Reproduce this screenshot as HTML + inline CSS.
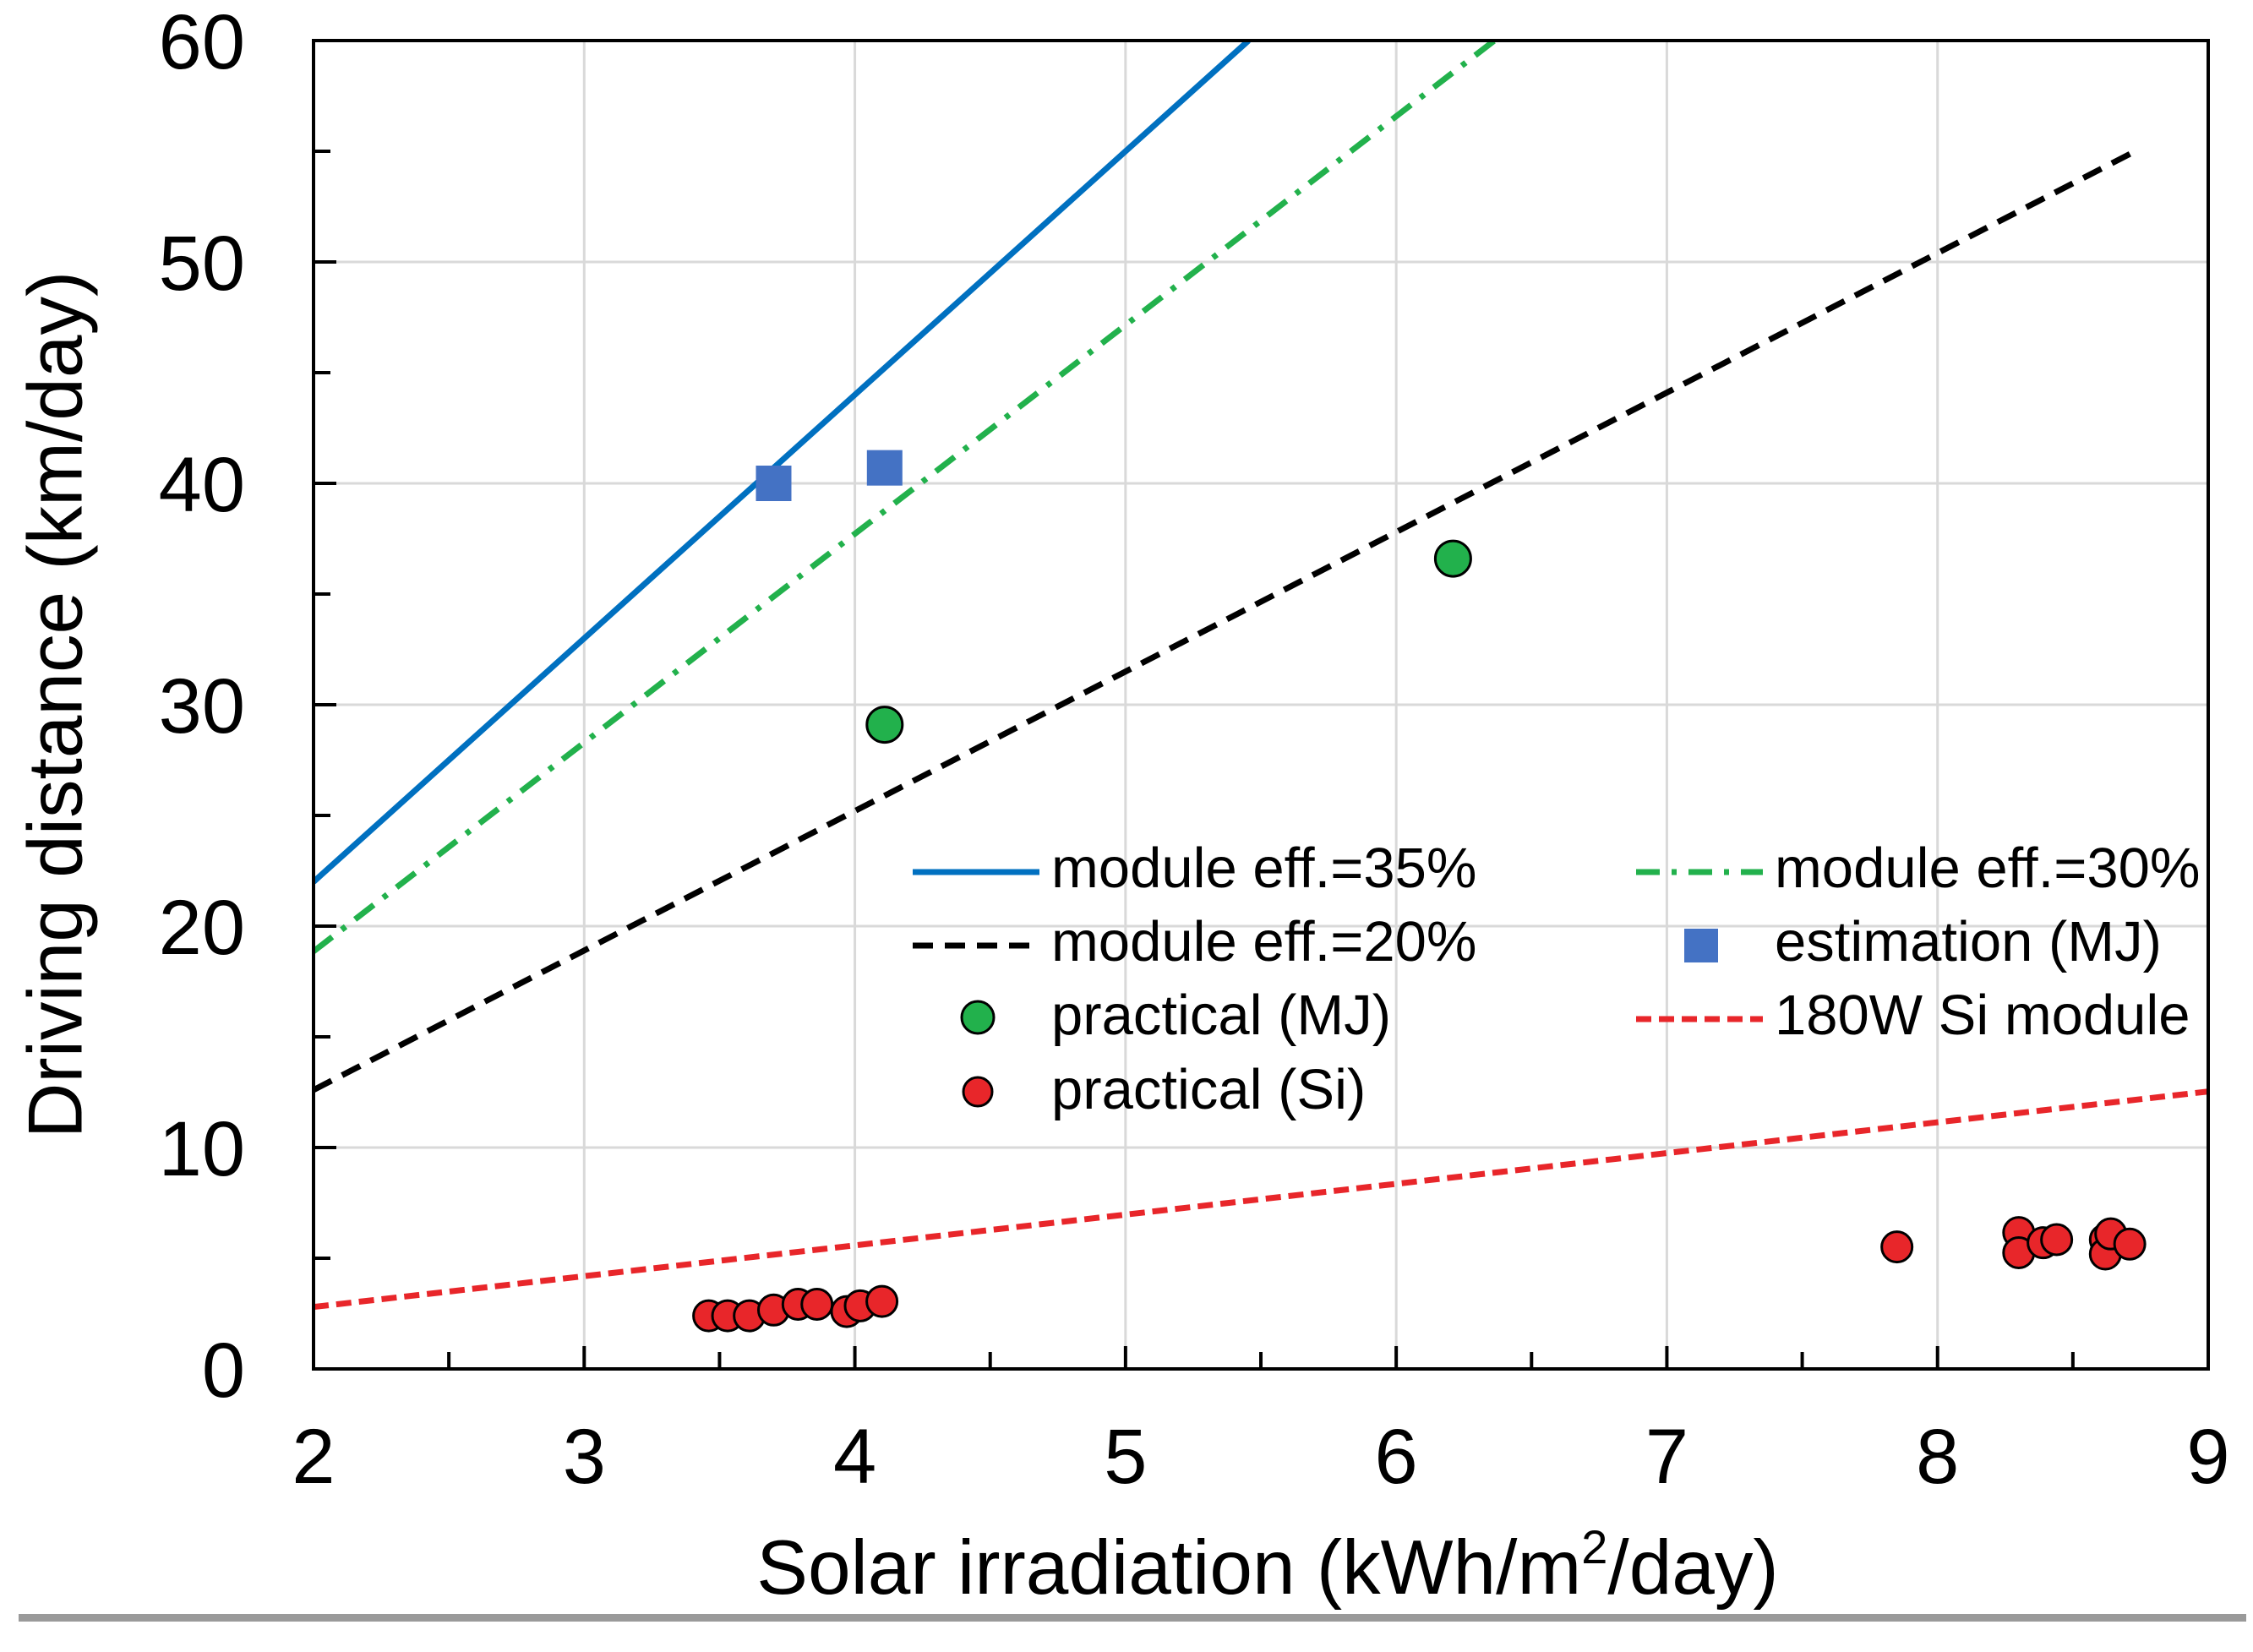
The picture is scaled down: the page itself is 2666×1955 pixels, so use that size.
<!DOCTYPE html>
<html><head><meta charset="utf-8"><style>
html,body{margin:0;padding:0;background:#fff;}
svg{display:block;font-family:"Liberation Sans",Arial,sans-serif;}
</style></head><body>
<svg id="chart" width="2666" height="1955" viewBox="0 0 2666 1955" xmlns="http://www.w3.org/2000/svg">
<g id="grid"></g>
<g id="series"></g>
<g id="axes"></g>
<g id="legend"></g>
<text x="66" y="834" font-size="91" text-anchor="middle" dominant-baseline="central" transform="rotate(-90 66 834)">Driving distance (km/day)</text>
<text x="1500" y="1886" font-size="91" text-anchor="middle">Solar irradiation (kWh/m<tspan font-size="56" dy="-36">2</tspan><tspan dy="36">/day)</tspan></text>
<rect x="22" y="1910" width="2636" height="9" fill="#9a9a9a"/>
</svg>
<script>
const xTicks = [2,3,4,5,6,7,8,9];
const yTicks = [0,10,20,30,40,50,60];
const lineSlopes = {eff35: 11.0, eff30: 9.43, eff20: 6.3};
const siSlope = 1.39;
const siIntercept = 0.02;
const line20End = 8.72;
const squareX = [3.70, 4.11];
const squareY = [40.0, 40.7];
const mjX = [4.11, 6.21];
const mjY = [29.1, 36.6];
const siX = [3.46,3.53,3.61,3.70,3.79,3.86,3.97,4.02,4.10,7.85,8.30,8.30,8.39,8.44,8.62,8.62,8.64,8.71];
const siY = [2.40,2.40,2.40,2.66,2.92,2.92,2.59,2.85,3.05,5.51,6.16,5.25,5.70,5.84,5.84,5.19,6.10,5.64];

const L=371,R=2613,T=48,B=1620;
const X=v=>L+(v-2)/7*(R-L);
const Y=v=>B-v/60*(B-T);
const NS="http://www.w3.org/2000/svg";
function mk(tag,attrs,parent){const e=document.createElementNS(NS,tag);for(const k in attrs)e.setAttribute(k,attrs[k]);parent.appendChild(e);return e;}
const grid=document.getElementById('grid'),axes=document.getElementById('axes'),ser=document.getElementById('series'),leg=document.getElementById('legend');

xTicks.forEach(v=>{
  const g=mk('line',{x1:X(v),x2:X(v),y1:T,y2:B,stroke:'#d9d9d9','stroke-width':3},grid);
  
  
  const t=mk('line',{x1:X(v),x2:X(v),y1:B,y2:B-27,stroke:'#000','stroke-width':4},axes);
  
  
  if(v<9){const m=mk('line',{x1:X(v+0.5),x2:X(v+0.5),y1:B,y2:B-20,stroke:'#000','stroke-width':4},axes);
  
  }
  const lb=mk('text',{x:X(v),y:1755,'font-size':92,'text-anchor':'middle'},axes);lb.textContent=v;
  
  
});
yTicks.forEach(v=>{
  const g=mk('line',{x1:L,x2:R,y1:Y(v),y2:Y(v),stroke:'#d9d9d9','stroke-width':3},grid);
  
  
  const t=mk('line',{x1:L,x2:L+27,y1:Y(v),y2:Y(v),stroke:'#000','stroke-width':4},axes);
  
  
  if(v<60){const m=mk('line',{x1:L,x2:L+20,y1:Y(v+5),y2:Y(v+5),stroke:'#000','stroke-width':4},axes);
  
  }
  const lb=mk('text',{x:290,y:Y(v)+33,'font-size':92,'text-anchor':'end'},axes);lb.textContent=v;
  
  
});
const frame=mk('rect',{x:L,y:T,width:R-L,height:B-T,fill:'none',stroke:'#000','stroke-width':4},axes);



const clip=mk('clipPath',{id:'pc'},ser);mk('rect',{x:L,y:T,width:R-L,height:B-T},clip);
function line(x1,y1,x2,y2,color,dash,name){
  const e=mk('line',{x1:X(x1),y1:Y(y1),x2:X(x2),y2:Y(y2),stroke:color,'stroke-width':7,'stroke-dasharray':dash,'clip-path':'url(#pc)'},ser);
  
  
}
line(2,2*lineSlopes.eff35,60/lineSlopes.eff35,60,'#0070c0','none','line-eff-35');
line(2,2*lineSlopes.eff30,60/lineSlopes.eff30,60,'#22b14c','28 14 6 14','line-eff-30');
line(2,2*lineSlopes.eff20,line20End,line20End*lineSlopes.eff20,'#000','24 14','line-eff-20');
line(2,2*siSlope+siIntercept,9,9*siSlope+siIntercept,'#e8262a','18 9','line-180w-si');

squareX.forEach((x,i)=>{
  const s=mk('rect',{x:X(x)-21,y:Y(squareY[i])-21,width:42,height:42,fill:'#4472c4'},ser);
  
  
});
mjX.forEach((x,i)=>{
  const c=mk('circle',{cx:X(x),cy:Y(mjY[i]),r:21,fill:'#22b14c',stroke:'#000','stroke-width':3},ser);
  
  
});
siX.forEach((x,i)=>{
  const c=mk('circle',{cx:X(x),cy:Y(siY[i]),r:18,fill:'#e8262a',stroke:'#000','stroke-width':3},ser);
  
  
});

function legText(x,y,s,name){const t=mk('text',{x:x,y:y+24,'font-size':67},leg);t.textContent=s;
  
  }
function legLine(x,y,color,dash,name){const e=mk('line',{x1:x,x2:x+150,y1:y,y2:y,stroke:color,'stroke-width':7,'stroke-dasharray':dash},leg);
  
  }
legLine(1080,1032,'#0070c0','none','legend-swatch-eff-35');legText(1244,1026,'module eff.=35%','legend-label-eff-35');
legLine(1080,1119,'#000','24 14','legend-swatch-eff-20');legText(1244,1113,'module eff.=20%','legend-label-eff-20');
const lc1=mk('circle',{cx:1157,cy:1204,r:19,fill:'#22b14c',stroke:'#000','stroke-width':3},leg);


legText(1244,1200,'practical (MJ)','legend-label-practical-mj');
const lc2=mk('circle',{cx:1157,cy:1292,r:17,fill:'#e8262a',stroke:'#000','stroke-width':3},leg);


legText(1244,1288,'practical (Si)','legend-label-practical-si');
legLine(1936,1032,'#22b14c','28 14 6 14','legend-swatch-eff-30');legText(2100,1026,'module eff.=30%','legend-label-eff-30');
const ls=mk('rect',{x:1993,y:1099,width:40,height:40,fill:'#4472c4'},leg);


legText(2100,1113,'estimation (MJ)','legend-label-estimation-mj');
legLine(1936,1206,'#e8262a','18 9','legend-swatch-180w-si');legText(2100,1200,'180W Si module','legend-label-180w-si');
</script>
</body></html>
